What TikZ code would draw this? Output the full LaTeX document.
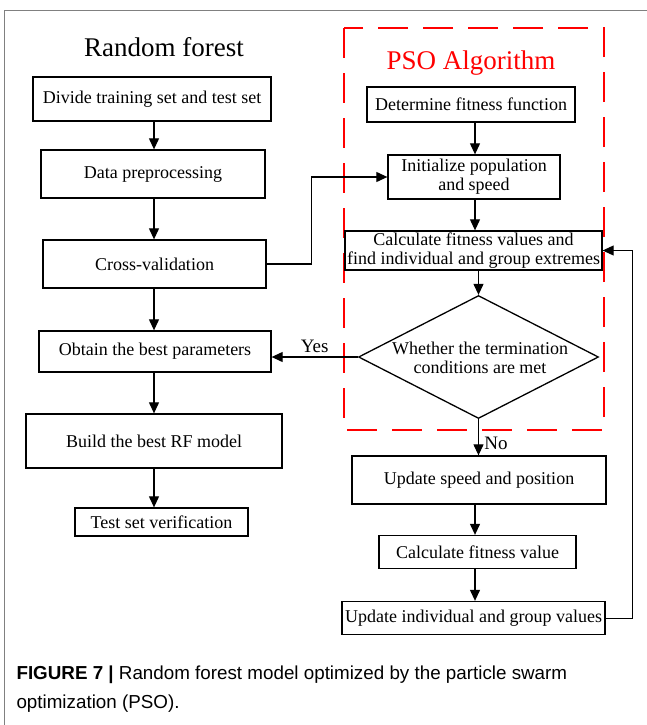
\documentclass[tikz,border=0pt]{standalone}
\usepackage{fontspec}
\setmainfont{Liberation Serif}
\newfontfamily\capfont{Liberation Sans}
\usetikzlibrary{calc}
\usetikzlibrary{shapes.geometric}
\usetikzlibrary{arrows.meta}

\begin{document}
\begin{tikzpicture}[x = 1pt, y = -1pt,
		box/.style = {draw, line width = 1.3pt, inner sep = 1pt, align = center, font = \fontsize{18}{19}\selectfont},
		flow/.style = {line width = 1.1pt, -{Triangle[length = 11pt, width = 10pt]}},
		lbl/.style = {font = \fontsize{19}{20}\selectfont}]
	\useasboundingbox (0, 0) rectangle (647, 725);
	\draw[gray, line width = 0.8pt] (4, 725)--(4, 10)--(647, 10);

	\coordinate (lx) at (154, 0);
	\coordinate (rx) at (475, 0);
	\coordinate (back) at (632, 0);

	\node[font = \fontsize{27}{30}\selectfont] (rf) at (164, 47) {Random forest};
	\node[box, minimum width = 238, minimum height = 44] (rf1) at (152, 99) {Divide training set and test set};
	\node[box, minimum width = 224, minimum height = 48] (rf2) at (153, 174) {Data preprocessing};
	\node[box, minimum width = 223, minimum height = 48] (rf3) at (154.5, 264) {Cross-validation};
	\node[box, minimum width = 232, minimum height = 41] (rf4) at (155, 351.5) {Obtain the best parameters};
	\node[box, minimum width = 256, minimum height = 54] (rf5) at (154, 441) {Build the best RF model};
	\node[box, minimum width = 173, minimum height = 28] (rf6) at (161.5, 522) {Test set verification};

	\draw[flow] (rf1.south -| lx)--(rf2.north -| lx);
	\draw[flow] (rf2.south -| lx)--(rf3.north -| lx);
	\draw[flow] (rf3.south -| lx)--(rf4.north -| lx);
	\draw[flow] (rf4.south -| lx)--(rf5.north -| lx);
	\draw[flow] (rf5.south -| lx)--(rf6.north -| lx);

	\draw[red, line width = 1.3pt, dash pattern = on 30pt off 15pt] (344, 28) rectangle (604, 430);
	\node[red, font = \fontsize{27}{30}\selectfont] (pso) at (471, 63) {PSO Algorithm};

	\node[box, minimum width = 208, minimum height = 35] (pso1) at (471, 104.5) {Determine fitness function};
	\node[box, minimum width = 172, minimum height = 44] (pso2) at (474, 177) {Initialize population\\and speed};
	\node[box, minimum width = 257, minimum height = 39] (pso3) at (473.5, 250.5) {Calculate fitness values and\\find individual and group extremes};
	\node[diamond, draw, line width = 1.3pt, inner sep = 0pt, minimum width = 240, minimum height = 123] (cond) at (478.5, 357) {};
	\node[align = center, font = \fontsize{18}{19}\selectfont] (condtxt) at (480, 358) {Whether the termination\\conditions are met};
	\node[box, minimum width = 254, minimum height = 48] (up1) at (479, 480) {Update speed and position};
	\node[box, minimum width = 197, minimum height = 33] (up2) at (477.5, 552) {Calculate fitness value};
	\node[box, minimum width = 263, minimum height = 33] (up3) at (473.5, 618) {Update individual and group values};

	\draw[flow] (pso1.south -| rx)--(pso2.north -| rx);
	\draw[flow] (pso2.south -| rx)--(pso3.north -| rx);
	\draw[flow] (pso3.south -| cond.north)--(cond.north);
	\draw[flow] (cond.south)--(up1.north -| cond.south)node[lbl, pos = 0.68, right, xshift = 2pt]{No};
	\draw[flow] (up1.south -| rx)--(up2.north -| rx);
	\draw[flow] (up2.south -| rx)--(up3.north -| rx);

	\draw[flow] (cond.west)--(cond.west -| rf4.east)node[lbl, pos = 0.5, above]{Yes};
	\draw[flow] (rf3.east)--++(45, 0)|-(pso2.west);
	\draw[flow, line width = 0.9pt] (up3.east)--(up3.east -| back)--(pso3.east -| back)--(pso3.east);

	\node[anchor = north west, align = left, font = \capfont\fontsize{18.8}{29}\selectfont] (cap) at (13, 662) {\textbf{FIGURE 7 |} Random forest model optimized by the particle swarm\\optimization (PSO).};
\end{tikzpicture}
\end{document}
